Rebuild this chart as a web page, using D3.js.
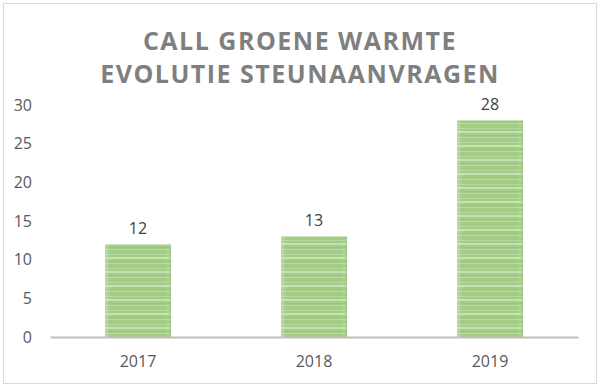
<!DOCTYPE html>
<html>
<head>
<meta charset="utf-8">
<script src="https://cdn.jsdelivr.net/npm/d3@7/dist/d3.min.js"></script>
<style>
  * { margin: 0; padding: 0; }
  body { background: #fff; width: 600px; height: 387px; overflow: hidden; }
  svg { display: block; font-family: "Open Sans", "Liberation Sans", sans-serif; }
</style>
</head>
<body>
<svg id="chart" width="600" height="387"></svg>
<script>
  const titleLines = ["CALL GROENE WARMTE", "EVOLUTIE STEUNAANVRAGEN"];
  const years = ["2017", "2018", "2019"];
  const aanvragen = [12, 13, 28];
  const yTicks = [0, 5, 10, 15, 20, 25, 30];

  const w = 600, h = 387;
  const margin = { top: 105, right: 22, bottom: 50, left: 50 };

  const svg = d3.select("#chart");

  // outer frame
  svg.append("rect")
    .attr("x", 3.5).attr("y", 3.5)
    .attr("width", w - 7).attr("height", h - 7)
    .attr("fill", "#fff")
    .attr("stroke", "#d9d9d9");

  // striped green fill
  const defs = svg.append("defs");
  const pat = defs.append("pattern")
    .attr("id", "stripes")
    .attr("patternUnits", "userSpaceOnUse")
    .attr("width", 10).attr("height", 14);
  pat.append("rect").attr("width", 10).attr("height", 14).attr("fill", "#a3cd86");
  pat.append("rect").attr("y", 2).attr("width", 10).attr("height", 1).attr("fill", "#b4d79c");
  pat.append("rect").attr("y", 5).attr("width", 10).attr("height", 2).attr("fill", "#c6e1b4");
  pat.append("rect").attr("y", 9).attr("width", 10).attr("height", 1).attr("fill", "#98c67a");
  pat.append("rect").attr("y", 11).attr("width", 10).attr("height", 1).attr("fill", "#b9dba3");

  const grad = defs.append("linearGradient").attr("id", "edge");
  grad.append("stop").attr("offset", "0%").attr("stop-color", "#fff").attr("stop-opacity", 0.25);
  grad.append("stop").attr("offset", "8%").attr("stop-color", "#fff").attr("stop-opacity", 0);
  grad.append("stop").attr("offset", "92%").attr("stop-color", "#fff").attr("stop-opacity", 0);
  grad.append("stop").attr("offset", "100%").attr("stop-color", "#8ab96c").attr("stop-opacity", 0.3);

  // title
  svg.append("g")
    .selectAll("text")
    .data(titleLines)
    .join("text")
    .attr("x", w / 2)
    .attr("y", (d, i) => 50 + i * 33)
    .attr("text-anchor", "middle")
    .attr("fill", "#7f7f7f")
    .attr("font-size", 25)
    .attr("font-weight", 700)
    .attr("letter-spacing", 1.5)
    .text(d => d);

  const x = d3.scaleBand()
    .domain(years)
    .range([margin.left, w - margin.right])
    .paddingInner(0.625)
    .paddingOuter(0.3125);

  const y = d3.scaleLinear()
    .domain([0, 30])
    .range([h - margin.bottom, margin.top]);

  // y axis labels
  const yAxis = svg.append("g")
    .attr("transform", `translate(${margin.left - 18},0)`)
    .call(d3.axisLeft(y).tickValues(yTicks).tickSize(0).tickPadding(0));
  yAxis.select(".domain").remove();
  yAxis.selectAll("text")
    .attr("font-size", 16)
    .attr("font-family", "Open Sans, Liberation Sans, sans-serif")
    .attr("fill", "#595959");

  // bars
  const bars = svg.append("g");
  bars.selectAll("rect.bar")
    .data(aanvragen)
    .join("rect")
    .attr("class", "bar")
    .attr("x", (d, i) => x(years[i]))
    .attr("y", d => y(d))
    .attr("width", x.bandwidth())
    .attr("height", d => y(0) - y(d))
    .attr("fill", "url(#stripes)");
  bars.selectAll("rect.edge")
    .data(aanvragen)
    .join("rect")
    .attr("class", "edge")
    .attr("x", (d, i) => x(years[i]))
    .attr("y", d => y(d))
    .attr("width", x.bandwidth())
    .attr("height", d => y(0) - y(d))
    .attr("fill", "url(#edge)");

  // data labels
  svg.append("g")
    .selectAll("text")
    .data(aanvragen)
    .join("text")
    .attr("x", (d, i) => x(years[i]) + x.bandwidth() / 2)
    .attr("y", d => y(d) - 10)
    .attr("text-anchor", "middle")
    .attr("font-size", 16)
    .attr("fill", "#404040")
    .text(d => d);

  // x axis
  const xAxis = svg.append("g")
    .attr("transform", `translate(0,${y(0)})`)
    .call(d3.axisBottom(x).tickSize(0).tickPadding(19));
  xAxis.select(".domain")
    .attr("stroke", "#bfbfbf")
    .attr("stroke-width", 2);
  xAxis.selectAll("text")
    .attr("font-size", 16)
    .attr("font-family", "Open Sans, Liberation Sans, sans-serif")
    .attr("fill", "#595959");
</script>
</body>
</html>
